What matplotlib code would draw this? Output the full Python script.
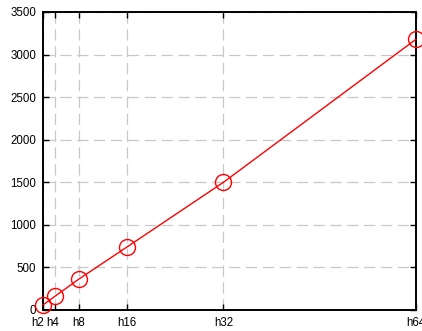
import matplotlib
matplotlib.use("Agg")
import matplotlib.pyplot as plt
from matplotlib.transforms import ScaledTranslation

# Hidden size vs. measured value
hidden_sizes = [2, 4, 8, 16, 32, 64]
tick_labels = ["h2", "h4", "h8", "h16", "h32", "h64"]
values = [60, 162, 365, 742, 1500, 3180]
y_ticks = [0, 500, 1000, 1500, 2000, 2500, 3000, 3500]

plt.rcParams["font.family"] = ["Liberation Sans", "DejaVu Sans"]

fig = plt.figure(figsize=(4.22, 3.31), dpi=100)
ax = fig.add_axes([43 / 422, 1 - 310 / 331, (416 - 43) / 422, (310 - 12) / 331])

ax.plot(hidden_sizes, values, color="red", lw=1.0, marker="o", ms=11.5,
        mfc="none", mec="red", mew=1.0, clip_on=False, zorder=3)

ax.set_xlim(2, 64)
ax.set_ylim(0, 3500)
ax.set_xticks(hidden_sizes)
ax.set_xticklabels(tick_labels)
ax.set_yticks(y_ticks)

ax.grid(True, color="#c8c8c8", linestyle=(0, (9, 4.5)), linewidth=0.9)
ax.set_axisbelow(True)

for s in ax.spines.values():
    s.set_linewidth(1.4)
    s.set_color("black")

ax.tick_params(axis="both", direction="in", top=True, right=True,
               length=4, width=1.0, labelsize=8.3)
ax.tick_params(axis="x", pad=5)
ax.tick_params(axis="y", pad=5)

# nudge the two crowded labels at the left end apart
xlabels = ax.get_xticklabels()
xlabels[0].set_ha("right")
xlabels[0].set_transform(xlabels[0].get_transform()
                         + ScaledTranslation(0.01, 0, fig.dpi_scale_trans))
xlabels[1].set_transform(xlabels[1].get_transform()
                         + ScaledTranslation(-0.02, 0, fig.dpi_scale_trans))

fig.savefig("out.png", dpi=100)
